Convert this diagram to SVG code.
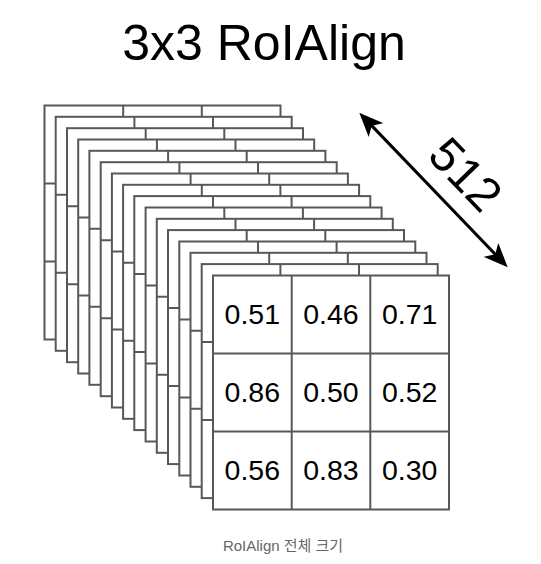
<svg xmlns="http://www.w3.org/2000/svg" xmlns:xlink="http://www.w3.org/1999/xlink" width="541" height="564" viewBox="0 0 541 564">
<style>
.box{fill:#fff;stroke:#565a56;stroke-width:2}
.grid{fill:none;stroke:#565a56;stroke-width:2}
.title{font-family:"Liberation Sans",Arial,sans-serif;font-size:50px;fill:#000;text-anchor:middle}
.val{font-family:"Liberation Sans",Arial,sans-serif;font-size:28.5px;fill:#000;text-anchor:middle}
.dim{font-family:"Liberation Sans",Arial,sans-serif;font-size:48px;fill:#000;text-anchor:middle}
.cap{font-family:"Liberation Sans","Noto Sans CJK KR",sans-serif;font-size:15px;fill:#666;text-anchor:middle}
.arrow{stroke:#000;stroke-width:3;fill:none}
</style>
<defs>
<g id="sheet">
<rect class="box" x="0" y="0" width="236" height="234"/>
<path class="grid" d="M78.7,0V234M157.3,0V234M0,78H236M0,156H236"/>
</g>
<marker id="ah" markerUnits="userSpaceOnUse" viewBox="0 0 24 20" refX="12" refY="10" markerWidth="24" markerHeight="20" orient="auto-start-reverse">
<path d="M0,0 L24,10 L0,20 L6,10 Z" fill="#000"/>
</marker>
</defs>
<rect width="541" height="564" fill="#fff"/>
<text class="title" x="264" y="60">3x3 RoIAlign</text>
<g id="layer-1" transform="translate(44.5,105.5)"><use xlink:href="#sheet" href="#sheet"/></g>
<g id="layer-2" transform="translate(55.7,116.8)"><use xlink:href="#sheet" href="#sheet"/></g>
<g id="layer-3" transform="translate(67,128.2)"><use xlink:href="#sheet" href="#sheet"/></g>
<g id="layer-4" transform="translate(78.2,139.5)"><use xlink:href="#sheet" href="#sheet"/></g>
<g id="layer-5" transform="translate(89.4,150.8)"><use xlink:href="#sheet" href="#sheet"/></g>
<g id="layer-6" transform="translate(100.7,162.2)"><use xlink:href="#sheet" href="#sheet"/></g>
<g id="layer-7" transform="translate(111.9,173.5)"><use xlink:href="#sheet" href="#sheet"/></g>
<g id="layer-8" transform="translate(123.1,184.8)"><use xlink:href="#sheet" href="#sheet"/></g>
<g id="layer-9" transform="translate(134.3,196.1)"><use xlink:href="#sheet" href="#sheet"/></g>
<g id="layer-10" transform="translate(145.6,207.5)"><use xlink:href="#sheet" href="#sheet"/></g>
<g id="layer-11" transform="translate(156.8,218.8)"><use xlink:href="#sheet" href="#sheet"/></g>
<g id="layer-12" transform="translate(168,230.1)"><use xlink:href="#sheet" href="#sheet"/></g>
<g id="layer-13" transform="translate(179.3,241.5)"><use xlink:href="#sheet" href="#sheet"/></g>
<g id="layer-14" transform="translate(190.5,252.8)"><use xlink:href="#sheet" href="#sheet"/></g>
<g id="layer-15" transform="translate(201.7,264.1)"><use xlink:href="#sheet" href="#sheet"/></g>
<g id="layer-16" transform="translate(213,275.5)">
<use xlink:href="#sheet" href="#sheet"/>
<text class="val" x="39.3" y="48">0.51</text>
<text class="val" x="118" y="48">0.46</text>
<text class="val" x="196.7" y="48">0.71</text>
<text class="val" x="39.3" y="126">0.86</text>
<text class="val" x="118" y="126">0.50</text>
<text class="val" x="196.7" y="126">0.52</text>
<text class="val" x="39.3" y="204">0.56</text>
<text class="val" x="118" y="204">0.83</text>
<text class="val" x="196.7" y="204">0.30</text>
</g>
<g id="connectors">
<line class="arrow" x1="367.6" y1="121.4" x2="499.4" y2="258.6" marker-start="url(#ah)" marker-end="url(#ah)"/>
<text class="dim" transform="translate(466,174) rotate(46)" x="0" y="17">512</text>
</g>
<text class="cap" x="283" y="551">RoIAlign 전체 크기</text>
</svg>
